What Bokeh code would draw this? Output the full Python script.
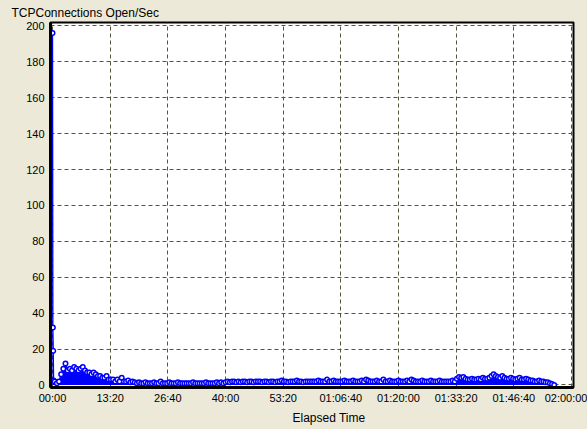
from bokeh.plotting import figure
from bokeh.models import Range1d, FixedTicker, Title
from bokeh.embed import file_html
from bokeh.resources import INLINE
import numpy as np

# ---------------- data ----------------
title_text = "TCPConnections Open/Sec"
x_label_text = "Elapsed Time"

x_tick_seconds = [0, 800, 1600, 2400, 3200, 4000, 4800, 5600, 6400, 7200]
x_tick_labels = ["00:00", "13:20", "26:40", "40:00", "53:20",
                 "01:06:40", "01:20:00", "01:33:20", "01:46:40", "02:00:00"]
y_ticks = [0, 20, 40, 60, 80, 100, 120, 140, 160, 180, 200]

# first seconds of the run (burst at start)
start_seconds = [0, 5, 10, 15]
start_values = [196, 32, 19, 2.5]

# then one sample every 30 s, from 00:30 to 01:56:00
sample_step = 30
values_00 = [2, 1, 2, 6, 9, 12, 8, 9, 8, 10, 9, 8, 9, 10, 8, 7, 7, 6, 7, 6]
values_10 = [5, 5, 4, 4, 5, 3, 3, 3, 2, 3, 2, 4, 2, 2, 2.5, 1.5, 2, 1.5, 1, 1.5]
values_20 = [1, 1, 1.5, 1, 1, 1, 1.5, 1, 1, 2, 1, 1, 1, 1.5, 1, 1, 1, 1.5, 1, 1]
values_30 = [1, 1, 1, 1, 1.5, 1, 1, 1, 1, 1, 1.5, 1, 1, 1, 1, 1.5, 1, 1.5, 1, 1.5]
values_40 = [2, 1.5, 2, 2, 1.5, 2, 1.5, 2, 2, 1.5, 2, 2, 1.5, 2, 2, 2, 1.5, 2, 2, 1.5]
values_50 = [2, 2, 1.5, 2, 2, 2.5, 2, 2, 1.5, 2, 2, 2, 2.5, 2, 2, 1.5, 2, 2, 2, 2]
values_60 = [2, 2, 2.5, 2, 2, 2, 3, 2, 2, 2.5, 2, 2, 2, 2, 2.5, 2, 2, 2, 2.5, 2]
values_70 = [2, 2, 2.5, 2, 3, 2.5, 2, 2, 2, 2.5, 2, 2, 3, 2, 2, 2.5, 2, 2, 2, 2.5]
values_80 = [2, 2, 2, 2.5, 2, 3, 2.5, 2, 2, 2, 2.5, 2, 2, 2, 2.5, 2, 2, 2, 2.5, 2]
values_90 = [2, 2, 2, 2, 2.5, 2, 3.5, 4.5, 4, 4.5, 3.5, 3, 3, 3.5, 3, 3, 3.5, 3, 4, 3.5]
values_100 = [3.5, 4, 5, 6, 5, 4.5, 4, 5, 4, 3.5, 3.5, 4, 3.5, 3, 3.5, 4, 3, 3, 3.5, 3]
values_110 = [2.5, 2.5, 2, 2, 2.5, 2, 2, 1.5, 1.5, 1, 0.5, 0]

regular_values = (values_00 + values_10 + values_20 + values_30 + values_40 + values_50
                  + values_60 + values_70 + values_80 + values_90 + values_100 + values_110)
regular_seconds = list(np.arange(1, len(regular_values) + 1) * sample_step)

t = start_seconds + regular_seconds
v = start_values + regular_values

# ---------------- styling ----------------
BEIGE = "#ECE9D8"
GRID = "#55553A"
BLUE = "#0000FF"
FONT = "Liberation Sans"

p = figure(width=587, height=429,
           x_range=Range1d(-28, 7228), y_range=Range1d(-1.4, 201.9),
           output_backend="svg", toolbar_location=None,
           min_border_left=50, min_border_right=14,
           min_border_top=21, min_border_bottom=42)

p.background_fill_color = "white"
p.border_fill_color = BEIGE
p.outline_line_color = "black"
p.outline_line_width = 2

# title (top-left)
p.title.text = title_text
p.title.align = "left"
p.title.offset = -39
p.title.standoff = 6
p.title.text_font = FONT
p.title.text_font_size = "12px"
p.title.text_font_style = "normal"
p.title.text_color = "black"

p.varea(x=t, y1=0, y2=v, fill_color=BLUE, fill_alpha=1.0)
p.line(x=t, y=v, line_color=BLUE, line_width=1.3)
p.scatter(x=t, y=v, marker="circle", size=4.5, line_color=BLUE,
          fill_color="white", line_width=1.5)

# axes
p.xaxis.ticker = FixedTicker(ticks=x_tick_seconds)
p.xaxis.major_label_overrides = {s: l for s, l in zip(x_tick_seconds, x_tick_labels)}
p.yaxis.ticker = FixedTicker(ticks=y_ticks)
for ax in (p.xaxis[0], p.yaxis[0]):
    ax.axis_line_color = "black"
    ax.axis_line_width = 3
    ax.major_tick_line_color = None
    ax.minor_tick_line_color = None
    ax.major_tick_out = 0
    ax.major_tick_in = 0
    ax.major_label_text_font = FONT
    ax.major_label_text_font_size = "11px"
    ax.major_label_text_color = "black"
p.xaxis.major_label_standoff = 4
p.yaxis.major_label_standoff = 6

p.xgrid.ticker = FixedTicker(ticks=x_tick_seconds)
p.ygrid.ticker = FixedTicker(ticks=y_ticks)
for g in (p.xgrid[0], p.ygrid[0]):
    g.grid_line_color = GRID
    g.grid_line_dash = "4 3"
    g.grid_line_width = 1

# x-axis caption, placed a little right of the frame centre as in the original
p.add_layout(Title(text=x_label_text, align="left", offset=242, standoff=4,
                   text_font=FONT, text_font_size="12px",
                   text_font_style="normal", text_color="black"), "below")

html = file_html(p, INLINE, title=title_text)
html = html.replace("</head>", "<style>body{background:%s;}</style></head>" % BEIGE, 1)
open("out.html", "w").write(html)
